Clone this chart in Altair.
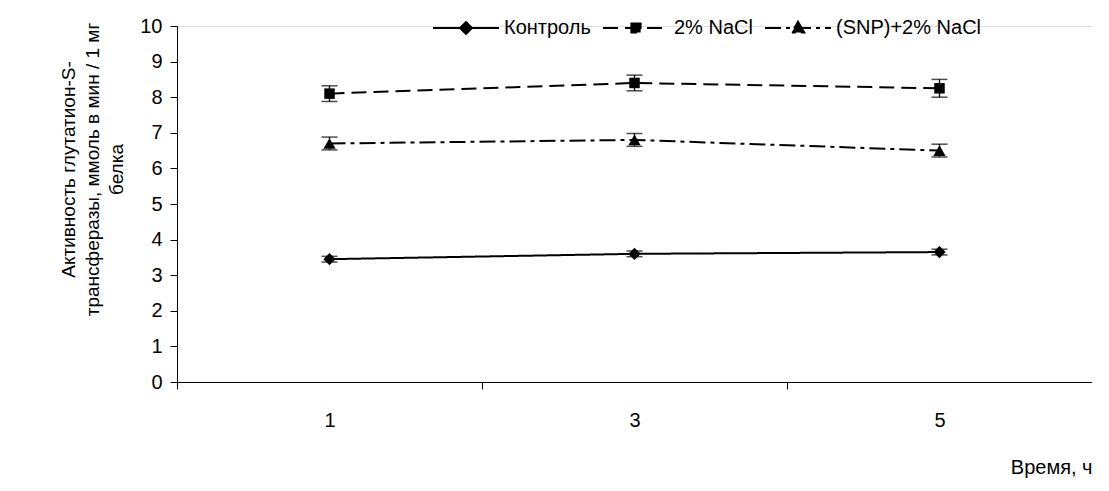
import altair as alt
import pandas as pd

times = ["1", "3", "5"]
series = ["Контроль", "2% NaCl", "(SNP)+2% NaCl"]
control = [3.45, 3.6, 3.65]
control_err = [0.08, 0.08, 0.08]
nacl = [8.1, 8.4, 8.25]
nacl_err = [0.22, 0.22, 0.25]
snp = [6.7, 6.8, 6.5]
snp_err = [0.18, 0.18, 0.18]
y_ticks = list(range(0, 11))

rows = []
for name, vals, errs in [(series[0], control, control_err),
                         (series[1], nacl, nacl_err),
                         (series[2], snp, snp_err)]:
    for t, v, e in zip(times, vals, errs):
        rows.append({"t": t, "series": name, "v": v, "lo": v - e, "hi": v + e})
df = pd.DataFrame(rows)

FONT = "Liberation Sans"
FS = 20

dash_range = [[1, 0], [15, 7], [16, 5, 4, 5]]
shapes = ["diamond", "square", "triangle-up"]
sizes = [150, 110, 150]

x_axis = alt.Axis(title="Время, ч", tickBand="extent", labelAngle=0,
                  labelFont=FONT, labelFontSize=FS, labelColor="black",
                  labelPadding=21, tickSize=7, tickColor="black",
                  domainColor="black", grid=False,
                  titleFont=FONT, titleFontSize=FS, titleFontWeight="normal",
                  titleColor="black", titleX=915, titleY=85,
                  titleAlign="right", titleBaseline="middle", titleAngle=0)
x_scale = alt.Scale(type="band", paddingInner=0, paddingOuter=0)

y_axis = alt.Axis(title=["Активность глутатион-S-",
                         "трансферазы, ммоль в мин / 1 мг", "белка"],
                  values=y_ticks, tickCount=20, format="d", labelOverlap=False,
                  labelFont=FONT, labelFontSize=FS,
                  labelColor="black", labelPadding=8, tickSize=7,
                  tickColor="black", domainColor="black", grid=False,
                  titleFont=FONT, titleFontSize=19, titleFontWeight="normal",
                  titleColor="black", titleAngle=-90, titleX=-109, titleY=143,
                  titleAlign="center", titleBaseline="middle",
                  titleLineHeight=24)
y_scale = alt.Scale(domain=[0, 10], nice=False, zero=True)


def X():
    return alt.X("t:O", sort=times, scale=x_scale, axis=x_axis)


def Y(field):
    return alt.Y(field, scale=y_scale, axis=y_axis)


base = alt.Chart(df)
layers = []

for name, dash, shp, sz in zip(series, dash_range, shapes, sizes):
    sub = base.transform_filter(alt.datum.series == name)
    layers.append(sub.mark_line(color="black", strokeWidth=2, strokeDash=dash).encode(
        x=X(), y=Y("v:Q")))
    layers.append(sub.mark_rule(color="black", strokeWidth=1.3).encode(
        x=X(), y=Y("lo:Q"), y2="hi:Q"))
    layers.append(sub.mark_tick(color="black", thickness=1.5, size=16,
                                orient="horizontal").encode(x=X(), y=Y("lo:Q")))
    layers.append(sub.mark_tick(color="black", thickness=1.5, size=16,
                                orient="horizontal").encode(x=X(), y=Y("hi:Q")))
    layers.append(sub.mark_point(filled=True, color="black", opacity=1,
                                 shape=shp, size=sz).encode(x=X(), y=Y("v:Q")))

legend_paths = [
    "M-1,0L1,0M0,-0.18L0.18,0L0,0.18L-0.18,0Z",
    "M-1,0L1,0M-0.14,-0.14L0.14,-0.14L0.14,0.14L-0.14,0.14Z",
    "M-1,0L1,0M0,-0.19L0.19,0.14L-0.19,0.14Z",
]

leg = dict(title=None, orient="none", direction="horizontal",
           columns=3, legendX=255, legendY=-32,
           symbolSize=4356, symbolStrokeWidth=2,
           labelFont=FONT, labelFontSize=FS,
           labelColor="black", labelOffset=4,
           columnPadding=8, padding=0)

legend_layer = base.transform_filter("datum.v < -100").mark_point(
    filled=False, color="black", fill="black", stroke="black", strokeWidth=2,
    opacity=1, fillOpacity=1, size=4356).encode(
    x=X(), y=Y("v:Q"),
    shape=alt.Shape("series:N",
                    scale=alt.Scale(domain=series, range=legend_paths),
                    legend=alt.Legend(**leg)),
    strokeDash=alt.StrokeDash("series:N",
                              scale=alt.Scale(domain=series, range=dash_range),
                              legend=alt.Legend(**leg)),
)
layers.append(legend_layer)

chart = alt.layer(*layers).properties(
    width=915, height=356,
    autosize=alt.AutoSizeParams(type="none"),
    padding={"left": 169, "top": 18, "right": 0, "bottom": 100},
).configure_view(stroke=None).configure_legend(
    symbolStrokeColor="black", symbolFillColor="black", symbolStrokeWidth=2
).configure(background="white")

chart.save("out.html", embed_options={"renderer": "svg", "actions": False})
